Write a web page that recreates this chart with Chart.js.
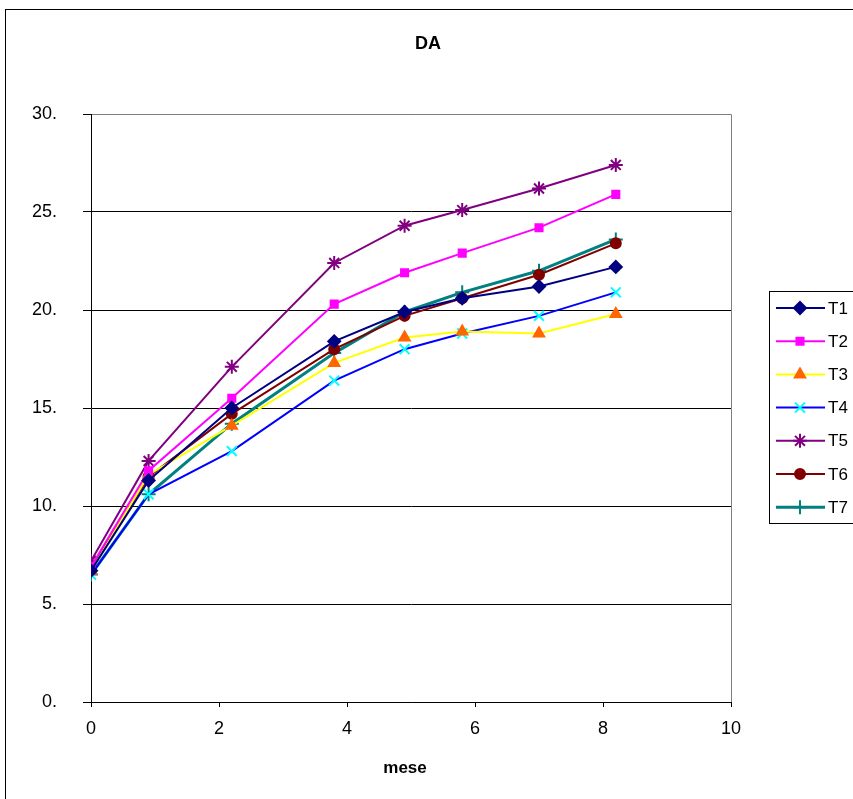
<!DOCTYPE html>
<html>
<head>
<meta charset="utf-8">
<script src="https://cdn.jsdelivr.net/npm/chart.js@4.4.1/dist/chart.umd.min.js"></script>
<style>
  html, body { margin: 0; padding: 0; background: #fff; overflow: hidden; }
</style>
</head>
<body>
<canvas id="myChart" width="853" height="799"></canvas>
<script>
// months on the x axis
var mesi = [0, 0.9, 2.2, 3.8, 4.9, 5.8, 7.0, 8.2];

// DA values per treatment
var t1 = [6.7, 11.3, 15.0, 18.4, 19.9, 20.6, 21.2, 22.2];
var t2 = [6.9, 11.8, 15.5, 20.3, 21.9, 22.9, 24.2, 25.9];
var t3 = [6.7, 11.6, 14.1, 17.3, 18.6, 18.9, 18.8, 19.8];
var t4 = [6.5, 10.6, 12.8, 16.4, 18.0, 18.8, 19.7, 20.9];
var t5 = [7.2, 12.3, 17.1, 22.4, 24.3, 25.1, 26.2, 27.4];
var t6 = [6.8, 11.5, 14.7, 18.0, 19.7, 20.6, 21.8, 23.4];
var t7 = [6.5, 10.6, 14.2, 17.8, 19.9, 20.9, 22.0, 23.6];

var yTicks = [0, 5, 10, 15, 20, 25, 30];
var xTicks = [0, 2, 4, 6, 8, 10];

var FONT = '"Liberation Sans", Arial, sans-serif';

function pts(vals) {
    return vals.map(function (v, i) { return { x: mesi[i], y: v }; });
}

function serie(label, vals, line, fill, style, radius, width) {
    return {
        label: label,
        data: pts(vals),
        borderColor: line,
        backgroundColor: fill,
        pointBorderColor: fill,
        pointBackgroundColor: fill,
        pointStyle: style,
        pointRadius: radius,
        pointBorderWidth: 2,
        borderWidth: width,
        showLine: true,
        tension: 0
    };
}

var datasets = [
    serie('T1', t1, '#000080', '#000080', 'rectRot', 6, 2),
    serie('T2', t2, '#FF00FF', '#FF00FF', 'rect', 5, 2),
    serie('T3', t3, '#FFFF00', '#FF6600', 'triangle', 6, 2),
    serie('T4', t4, '#0000FF', '#00FFFF', 'crossRot', 7, 2),
    serie('T5', t5, '#800080', '#800080', 'star', 7, 2),
    serie('T6', t6, '#800000', '#800000', 'circle', 5, 2),
    serie('T7', t7, '#008080', '#008080', 'cross', 7, 3)
];

// frame, plot border, title, legend drawn like the spreadsheet original
var decor = {
    id: 'decor',
    beforeDraw: function (chart) {
        var c = chart.ctx;
        c.save();
        c.fillStyle = '#fff';
        c.fillRect(0, 0, chart.width, chart.height);
        c.strokeStyle = '#000';
        c.lineWidth = 1;
        c.strokeRect(5.5, 9.5, 900, 900);
        c.restore();
    },
    afterDatasetsDraw: function (chart) {
        var c = chart.ctx;
        var a = chart.chartArea;
        c.save();
        // grey top/right edges of plot area
        c.strokeStyle = '#808080';
        c.lineWidth = 1;
        var top = Math.round(a.top) + 0.5;
        var right = Math.round(a.right) + 0.5;
        c.beginPath();
        c.moveTo(right, a.bottom);
        c.lineTo(right, top);
        c.lineTo(a.left + 1, top);
        c.stroke();

        // title
        c.fillStyle = '#000';
        c.font = 'bold 18px ' + FONT;
        c.textAlign = 'center';
        c.textBaseline = 'middle';
        c.fillText('DA', 428, 44);

        // x axis title
        c.font = 'bold 17px ' + FONT;
        c.fillText('mese', 405, 768);

        // legend
        c.strokeStyle = '#000';
        c.strokeRect(769.5, 291.5, 120, 232);
        c.font = '17px ' + FONT;
        c.textAlign = 'left';
        chart.data.datasets.forEach(function (ds, i) {
            var y = 308 + i * 33.2;
            c.strokeStyle = ds.borderColor;
            c.lineWidth = ds.borderWidth;
            c.beginPath();
            c.moveTo(776, y);
            c.lineTo(825, y);
            c.stroke();
            c.lineWidth = 2;
            c.fillStyle = ds.pointBackgroundColor;
            c.strokeStyle = ds.pointBorderColor;
            Chart.helpers.drawPoint(c, {
                pointStyle: ds.pointStyle,
                radius: ds.pointRadius,
                borderWidth: 2
            }, 800, y);
            c.fillStyle = '#000';
            c.fillText(ds.label, 828, y + 1);
        });
        c.restore();
    }
};

var ctx = document.getElementById('myChart').getContext('2d');
var myChart = new Chart(ctx, {
    type: 'scatter',
    data: { datasets: datasets },
    plugins: [decor],
    options: {
        responsive: false,
        animation: false,
        layout: { padding: { left: 0, top: 114, right: 122, bottom: 0 } },
        plugins: {
            legend: { display: false },
            title: { display: false },
            tooltip: { enabled: false }
        },
        scales: {
            x: {
                type: 'linear',
                min: 0,
                max: 10,
                afterBuildTicks: function (s) {
                    s.ticks = xTicks.map(function (v) { return { value: v }; });
                },
                afterFit: function (s) { s.height = 97; },
                grid: {
                    drawOnChartArea: false,
                    drawTicks: true,
                    tickLength: 5,
                    color: '#000'
                },
                border: { color: '#000', width: 1 },
                ticks: {
                    color: '#000',
                    font: { family: FONT, size: 18 },
                    padding: 11,
                    maxRotation: 0
                }
            },
            y: {
                min: 0,
                max: 30,
                afterBuildTicks: function (s) {
                    s.ticks = yTicks.map(function (v) { return { value: v }; });
                },
                afterFit: function (s) { s.width = 91; },
                grid: {
                    color: '#000',
                    drawTicks: true,
                    tickLength: 8,
                    lineWidth: 1
                },
                border: { color: '#000', width: 1 },
                ticks: {
                    color: '#000',
                    font: { family: FONT, size: 18 },
                    padding: 26,
                    callback: function (v) { return v + '.'; }
                }
            }
        }
    }
});
</script>
</body>
</html>
